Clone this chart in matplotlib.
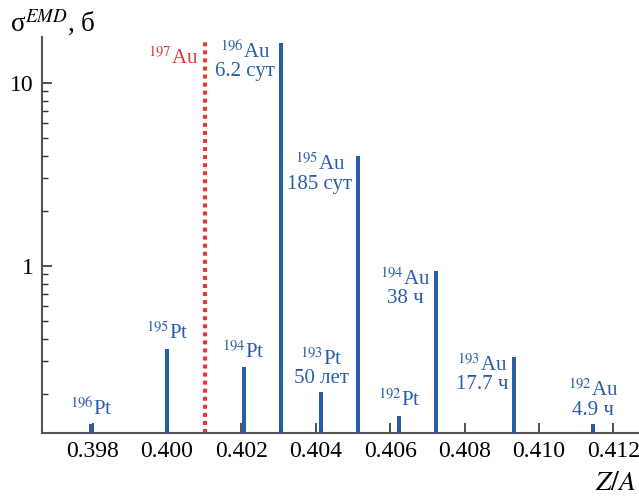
import matplotlib
matplotlib.use('Agg')
import matplotlib.pyplot as plt
from matplotlib.ticker import LogLocator, NullFormatter, FixedLocator

plt.rcParams['font.family'] = ['Liberation Serif', 'DejaVu Serif']
plt.rcParams['mathtext.fontset'] = 'stix'

# data: Z/A positions and EMD cross sections (barn)
isotopes = ['196Pt', '195Pt', '194Pt', '196Au', '193Pt', '195Au', '192Pt', '194Au', '193Au', '192Au']
za = [0.39796, 0.40000, 0.40206, 0.40306, 0.40415, 0.40513, 0.40625, 0.40722, 0.40933, 0.41146]
sigma = [0.137, 0.353, 0.279, 16.5, 0.204, 3.96, 0.152, 0.94, 0.317, 0.137]
half_life = ['', '', '', '6.2 сут', '50 лет', '185 сут', '', '38 ч', '17.7 ч', '4.9 ч']
label_side = ['top', 'top', 'top', 'left', 'top', 'left', 'top', 'left', 'left', 'top']
target_za = 0.40102
target_name = '197Au'
xticks = [0.398, 0.400, 0.402, 0.404, 0.406, 0.408, 0.410, 0.412]

BLUE = '#2a5caa'
RED = '#e8353a'

def iso_label(name):
    return r'$^{%s}$%s' % (name[:3], name[3:])

fig = plt.figure(figsize=(6.39, 4.99), dpi=100)
ax = fig.add_axes([0.0657, 0.1323, 0.9343, 0.7936])

ax.vlines(za, 0.01, sigma, color=BLUE, lw=2.9, zorder=3)
ax.axvline(target_za, ymin=0, ymax=0.99, color=RED, lw=2.9, ls=(0, (1, 1)), zorder=2)
ax.annotate(iso_label(target_name), (target_za, 0.975), xycoords=ax.get_xaxis_transform(),
            xytext=(-5, 0), textcoords='offset points',
            color=RED, fontsize=15, ha='right', va='top')

for name, x, s, hl, side in zip(isotopes, za, sigma, half_life, label_side):
    txt = iso_label(name) + ('\n' + hl if hl else '')
    if side == 'top':
        ax.annotate(txt, (x, s), xytext=(0, 3), textcoords='offset points',
                    ha='center', va='bottom', ma='center', color=BLUE, fontsize=15,
                    linespacing=0.95)
    else:
        ax.annotate(txt, (x, s), xytext=(-4, 2), textcoords='offset points',
                    ha='right', va='top', ma='center', color=BLUE, fontsize=15,
                    linespacing=0.95)

ax.set_yscale('log')
ax.set_xlim(0.39664, 0.41269)
ax.set_ylim(0.122, 17.8)
ax.yaxis.set_major_locator(FixedLocator([1, 10]))
ax.yaxis.set_major_formatter(plt.FuncFormatter(lambda v, p: '%d' % v))
ax.yaxis.set_minor_locator(LogLocator(base=10, subs=range(2, 10)))
ax.yaxis.set_minor_formatter(NullFormatter())
ax.set_xticks(xticks)
ax.set_xticklabels(['%.3f' % t for t in xticks])

for side in ['top', 'right']:
    ax.spines[side].set_visible(False)
for side in ['left', 'bottom']:
    ax.spines[side].set_color('#555555')
    ax.spines[side].set_linewidth(1.5)
ax.tick_params(which='major', direction='in', length=7, width=1.2, color='#333333',
               labelsize=17, pad=6)
ax.tick_params(which='minor', direction='in', length=4, width=1.0, color='#333333')

fig.text(0.015, 0.955, r'σ$^{EMD}$, б', fontsize=19.5, ha='left', va='center')
fig.text(0.995, 0.032, r'$Z/A$', fontsize=20, ha='right', va='center')

fig.savefig('out.png', dpi=100)
